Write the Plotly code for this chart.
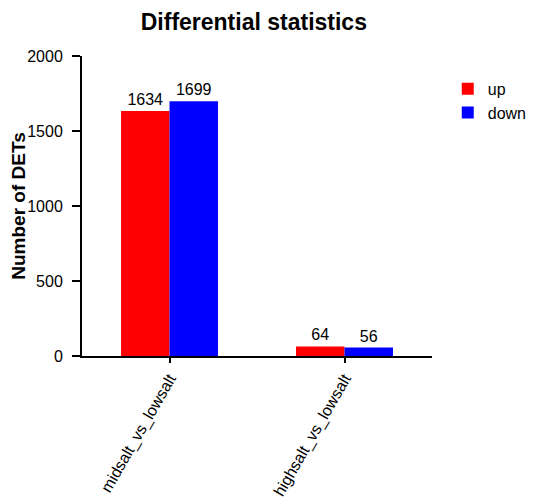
import plotly.graph_objects as go

COMPARISONS = ["midsalt_vs_lowsalt", "highsalt_vs_lowsalt"]
UP = [1634, 64]
DOWN = [1699, 56]
Y_TICKS = [0, 500, 1000, 1500, 2000]

_FONT = "Liberation Sans, Arial, sans-serif"

fig = go.Figure()
fig.add_trace(go.Bar(
    x=COMPARISONS, y=UP, name="up",
    marker_color="#FF0000", marker_line_width=0,
    text=[str(v) for v in UP], textposition="outside",
    textfont=dict(family=_FONT, size=16, color="black"),
    cliponaxis=False,
))
fig.add_trace(go.Bar(
    x=COMPARISONS, y=DOWN, name="down",
    marker_color="#0000FF", marker_line_width=0,
    text=[str(v) for v in DOWN], textposition="outside",
    textfont=dict(family=_FONT, size=16, color="black"),
    cliponaxis=False,
))

fig.update_layout(
    width=550, height=501,
    barmode="group", bargap=0.446, bargroupgap=0,
    paper_bgcolor="white", plot_bgcolor="white",
    font=dict(family=_FONT, size=15, color="black"),
    margin=dict(l=74, r=126, t=48, b=153),
    title=dict(
        text="<b>Differential statistics</b>",
        x=0.447, xanchor="center", y=0.972, yanchor="middle",
        font=dict(family=_FONT, size=23, color="black"),
    ),
    legend=dict(
        x=1.045, xanchor="left", y=0.947, yanchor="top",
        font=dict(family=_FONT, size=16), itemwidth=30,
    ),
    xaxis=dict(
        range=[-0.5, 1.5], tickangle=-60, automargin=False,
        showline=True, linecolor="black", linewidth=2,
        ticks="outside", ticklen=5, tickwidth=1.5, tickcolor="black",
        tickfont=dict(family=_FONT, size=16),
        showgrid=False, zeroline=False,
    ),
    yaxis=dict(
        range=[0, 2000], tickvals=Y_TICKS, automargin=False,
        showline=True, linecolor="black", linewidth=2,
        ticks="outside", ticklen=8, tickwidth=1.5, tickcolor="black",
        ticklabelstandoff=6,
        tickfont=dict(family=_FONT, size=16),
        title=dict(text="<b>Number of DETs</b>", font=dict(family=_FONT, size=19), standoff=10),
        showgrid=False, zeroline=False,
    ),
)

fig.write_html("out.html")
